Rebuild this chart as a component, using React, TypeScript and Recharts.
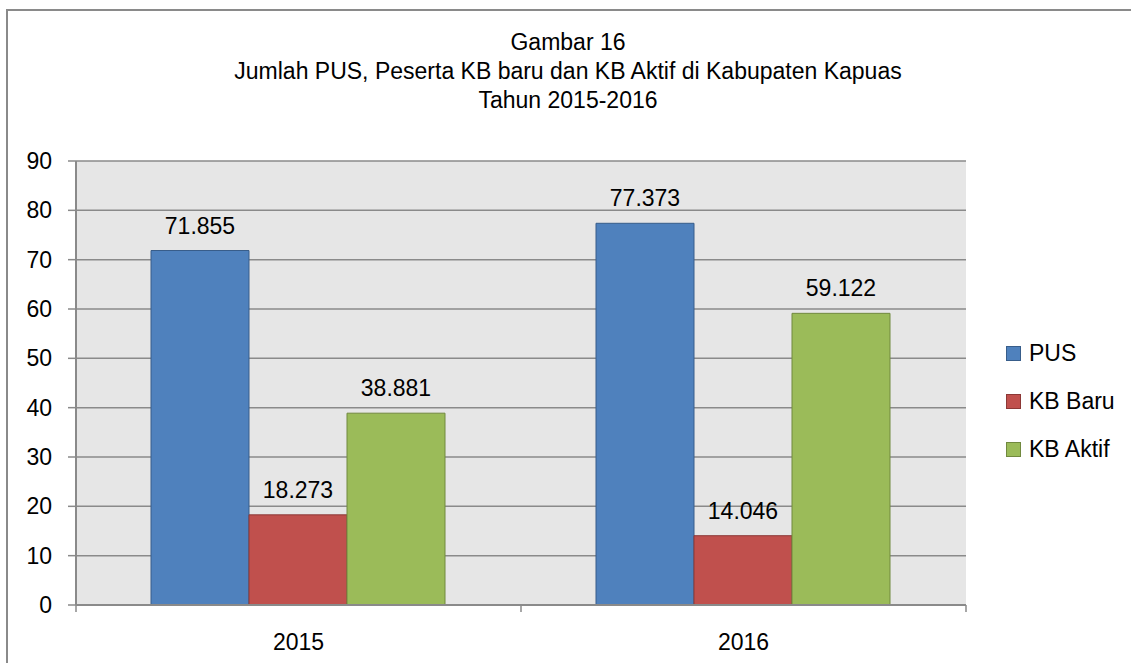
import React from "react";
import { Bar, BarChart, CartesianGrid, LabelList, Legend, XAxis, YAxis } from "recharts";

const years = ["2015", "2016"];
const pus = [71.855, 77.373];
const kbBaru = [18.273, 14.046];
const kbAktif = [38.881, 59.122];
const yTicks = [0, 10, 20, 30, 40, 50, 60, 70, 80, 90];
const titleLines = [
  "Gambar 16",
  "Jumlah PUS, Peserta KB baru dan KB Aktif di Kabupaten Kapuas",
  "Tahun 2015-2016",
];

const series = [
  { key: "pus", name: "PUS", fill: "#4f81bd", stroke: "#385d8a" },
  { key: "kbBaru", name: "KB Baru", fill: "#c0504d", stroke: "#8c3836" },
  { key: "kbAktif", name: "KB Aktif", fill: "#9bbb59", stroke: "#71893f" },
];

const data = years.map((y, i) => ({
  year: y,
  pus: pus[i],
  kbBaru: kbBaru[i],
  kbAktif: kbAktif[i],
}));

const W = 1131;
const H = 663;
const PLOT_L = 76;
const PLOT_R = 966;
const PLOT_T = 161;
const PLOT_B = 605;
const FONT = "'Liberation Sans', Arial, sans-serif";
const FS = 23;
const BAND = (PLOT_R - PLOT_L) / years.length;
const fmt = (v: number) => v.toFixed(3);

function XTick(props: any) {
  const { x, y, payload, index } = props;
  return (
    <g>
      <text x={x} y={y + 45} textAnchor="middle" fontSize={FS} fontFamily={FONT} fill="#000">
        {payload.value}
      </text>
      <line x1={x - BAND / 2} x2={x - BAND / 2} y1={y} y2={y + 7} stroke="#8a8a8a" strokeWidth={1.5} />
      {index === years.length - 1 && (
        <line x1={x + BAND / 2} x2={x + BAND / 2} y1={y} y2={y + 7} stroke="#8a8a8a" strokeWidth={1.5} />
      )}
    </g>
  );
}

function LegendBox() {
  return (
    <div style={{ fontFamily: FONT, fontSize: FS, color: "#000" }}>
      {series.map((s) => (
        <div key={s.key} style={{ display: "flex", alignItems: "center", height: 48 }}>
          <span
            style={{
              display: "inline-block",
              width: 13,
              height: 13,
              background: s.fill,
              border: `1.5px solid ${s.stroke}`,
              marginRight: 8,
            }}
          />
          <span>{s.name}</span>
        </div>
      ))}
    </div>
  );
}

export default function App() {
  return (
    <div style={{ position: "absolute", left: 0, top: 0, width: W, height: H, background: "#fff", overflow: "hidden" }}>
      <div
        style={{
          position: "absolute",
          left: 6,
          top: 9,
          width: W,
          height: H,
          borderLeft: "2px solid #8a8a8a",
          borderTop: "2px solid #8a8a8a",
        }}
      />
      <div
        style={{
          position: "absolute",
          left: 6,
          width: 1124,
          top: 28,
          textAlign: "center",
          fontFamily: FONT,
          fontSize: FS,
          lineHeight: "29px",
          color: "#000",
        }}
      >
        {titleLines.map((t) => (
          <div key={t}>{t}</div>
        ))}
      </div>
      <div style={{ position: "absolute", left: 0, top: 0 }}>
        <BarChart
          width={W}
          height={H}
          data={data}
          margin={{ top: PLOT_T, right: W - PLOT_R, bottom: H - PLOT_B - 50, left: 16 }}
          barCategoryGap={75}
          barGap={0}
        >
          <CartesianGrid vertical={false} fill="#e6e6e6" stroke="#8a8a8a" strokeWidth={1.5} />
          <XAxis
            dataKey="year"
            height={50}
            tickLine={false}
            tickSize={0}
            tickMargin={0}
            axisLine={{ stroke: "#8a8a8a", strokeWidth: 2 }}
            tick={<XTick />}
            interval={0}
          />
          <YAxis
            width={60}
            domain={[0, 90]}
            ticks={yTicks}
            interval={0}
            tickSize={8}
            tickMargin={16}
            tickLine={{ stroke: "#8a8a8a", strokeWidth: 1.5 }}
            axisLine={{ stroke: "#8a8a8a", strokeWidth: 2 }}
            tick={{ fill: "#000", fontSize: FS, fontFamily: FONT }}
          />
          <Legend
            layout="horizontal"
            verticalAlign="middle"
            align="center"
            content={<LegendBox />}
            wrapperStyle={{ left: 1006, top: 329, width: 125 }}
          />
          {series.map((s) => (
            <Bar
              key={s.key}
              dataKey={s.key}
              name={s.name}
              fill={s.fill}
              stroke={s.stroke}
              strokeWidth={1}
              isAnimationActive={false}
            >
              <LabelList
                dataKey={s.key}
                position="top"
                offset={17}
                formatter={(v: any) => fmt(Number(v))}
                style={{ fill: "#000", fontSize: FS, fontFamily: FONT }}
              />
            </Bar>
          ))}
        </BarChart>
      </div>
    </div>
  );
}
